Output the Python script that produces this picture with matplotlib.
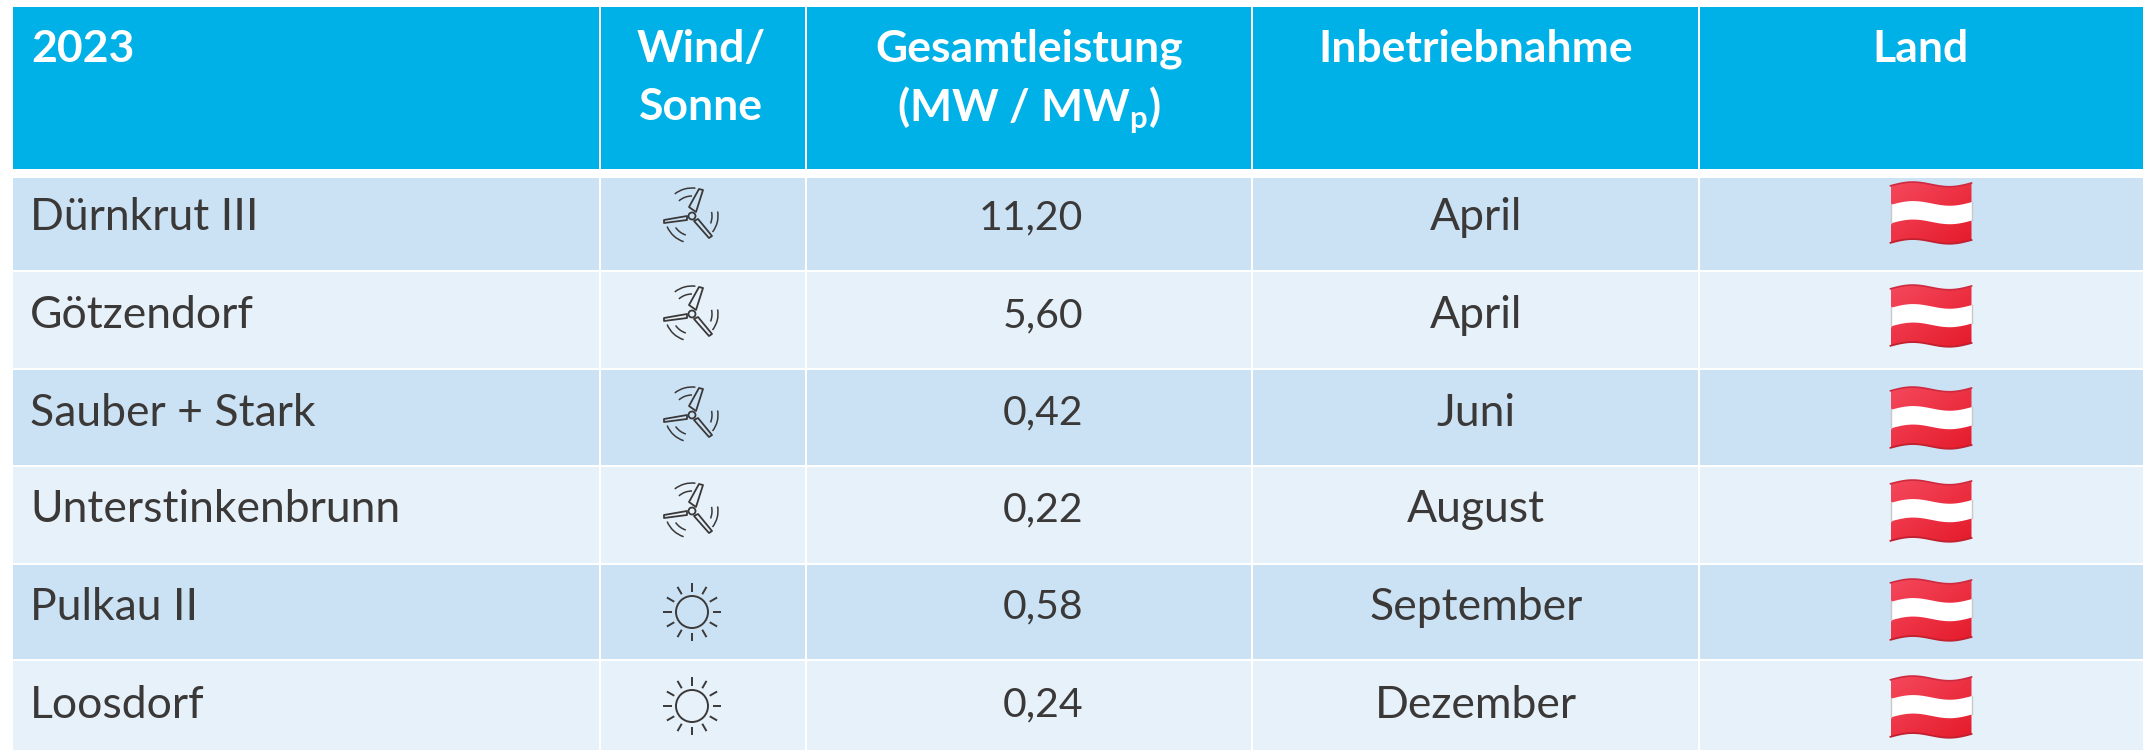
import numpy as np
import matplotlib
matplotlib.use("Agg")
import matplotlib.pyplot as plt
from matplotlib.patches import Rectangle, Polygon, Circle, Arc

YEAR = "2023"
HEADERS = ["Wind/\nSonne", "Gesamtleistung\n(MW / MW$_{\\mathregular{p}}$)", "Inbetriebnahme", "Land"]
NAMES = ["Dürnkrut III", "Götzendorf", "Sauber + Stark", "Unterstinkenbrunn", "Pulkau II", "Loosdorf"]
KINDS = ["wind", "wind", "wind", "wind", "sun", "sun"]
POWER = [11.20, 5.60, 0.42, 0.22, 0.58, 0.24]
MONTHS = ["April", "April", "Juni", "August", "September", "Dezember"]

# layout in reference pixels
COL_X = [13, 601, 807, 1253, 1700, 2146]
ROW_Y = [178, 272, 370, 467, 565, 661, 752.5]
ROW_TEXT_Y = [214, 312, 409, 506, 603, 701]
ICON_Y = [216, 314, 415, 511, 612, 706]
FLAG_Y = [213, 316, 418, 511, 610, 707]
ICON_X = 692
FLAG_X = 1931

C_HEAD = "#00B1E7"
C_DARK = "#CBE2F5"
C_LIGHT = "#E6F1FA"
C_TEXT = "#3B3838"
FS = 32
FS_NUM = 29.5
FS_HEAD = 32

plt.rcParams["font.family"] = ["Lato", "DejaVu Sans"]

fig = plt.figure(figsize=(21.43, 7.52), dpi=100)
ax = fig.add_axes([0, 0, 1, 1])


def wind_icon(cx, cy):
    blades = [
        [(-3, -9), (7, -27), (11, -26), (4, -4)],
        [(-5, 0), (-28, 4), (-28, 7), (-5, 4)],
        [(6, 3), (20, 20), (17, 22), (2, 5)],
    ]
    for b in blades:
        ax.add_patch(Polygon([(cx + x, cy + y) for x, y in b], closed=True, fill=False,
                             ec=C_TEXT, lw=1.3, joinstyle="round"))
    ax.add_patch(Circle((cx, cy), 3.5, fill=False, ec=C_TEXT, lw=1.3))
    # y axis is flipped, so angles run clockwise on screen
    arcs = [(28, 232, 277), (20, 229, 270), (26, -10, 38), (20, -12, 22),
            (27, 108, 157), (20, 108, 145)]
    for r, a0, a1 in arcs:
        ax.add_patch(Arc((cx, cy), 2 * r, 2 * r, theta1=a0, theta2=a1, ec=C_TEXT, lw=1.1))


def sun_icon(cx, cy):
    ax.add_patch(Circle((cx, cy), 16, fill=False, ec=C_TEXT, lw=1.4))
    for a in np.radians(np.arange(0, 360, 30)):
        ax.plot([cx + 20.5 * np.cos(a), cx + 29 * np.cos(a)],
                [cy + 20.5 * np.sin(a), cy + 29 * np.sin(a)], color=C_TEXT, lw=1.4,
                solid_capstyle="butt")


def flag(cx, cy):
    w, h = 81, 57
    t = np.linspace(0, 1, 50)
    xs = cx - w / 2 + t * w
    wave = 2.8 - 3.0 * np.sin(2 * np.pi * t) - 2.8 * t
    top = cy - 30 + wave
    bot = top + h
    outline = np.r_[np.c_[xs, top], np.c_[xs[::-1], bot[::-1]]]
    grad = np.linspace(0, 1, 64)[None, :] * 0.5 + np.linspace(0, 1, 64)[:, None] * 0.5
    cmap = matplotlib.colors.LinearSegmentedColormap.from_list("fl", ["#F5485C", "#E41B2B"])
    im = ax.imshow(grad, extent=(xs[0], xs[-1], bot.max(), top.min()), cmap=cmap,
                   aspect="auto", zorder=3)
    im.set_clip_path(Polygon(outline, closed=True, transform=ax.transData))
    ax.fill_between(xs, top + 18.5, top + 37, color="white", lw=0, zorder=4)
    ax.plot(xs, top, color="#CE2A40", lw=1.2, zorder=5)
    ax.plot(xs, bot, color="#C1202F", lw=1.3, zorder=5)
    ax.plot([xs[0], xs[0]], [top[0] + 18.5, top[0] + 37], color="#C8C8C8", lw=1, zorder=5)
    ax.plot([xs[-1], xs[-1]], [top[-1] + 18.5, top[-1] + 37], color="#C8C8C8", lw=1, zorder=5)


# header
for x0, x1 in zip(COL_X[:-1], COL_X[1:]):
    ax.add_patch(Rectangle((x0, 7), x1 - x0 - 2.5, 162, fc=C_HEAD, ec="none"))
ax.text(31, 45, YEAR, color="white", fontsize=FS_HEAD, fontweight="bold", ha="left", va="center_baseline")
head_x = [701, 1029, 1476, 1921]
for x, t in zip(head_x, HEADERS):
    lines = t.split("\n")
    for j, line in enumerate(lines):
        ax.text(x, 45 + 58 * j, line, color="white", fontsize=FS_HEAD, fontweight="bold",
                ha="center", va="center_baseline")

# body
for i, name in enumerate(NAMES):
    y0, y1 = ROW_Y[i], ROW_Y[i + 1]
    col = C_DARK if i % 2 == 0 else C_LIGHT
    for x0, x1 in zip(COL_X[:-1], COL_X[1:]):
        ax.add_patch(Rectangle((x0, y0), x1 - x0 - 2.5, y1 - y0 - 2.5, fc=col, ec="none"))
    ty = ROW_TEXT_Y[i]
    ax.text(30, ty, name, color=C_TEXT, fontsize=FS, ha="left", va="center_baseline")
    ax.text(1083, ty, f"{POWER[i]:.2f}".replace(".", ","), color=C_TEXT, fontsize=FS_NUM,
            ha="right", va="center_baseline")
    ax.text(1476, ty, MONTHS[i], color=C_TEXT, fontsize=FS, ha="center", va="center_baseline")
    if KINDS[i] == "wind":
        wind_icon(ICON_X, ICON_Y[i])
    else:
        sun_icon(ICON_X, ICON_Y[i])
    flag(FLAG_X, FLAG_Y[i])

ax.set_xlim(0, 2143)
ax.set_ylim(752, 0)
ax.axis("off")
fig.savefig("out.png", dpi=100)
